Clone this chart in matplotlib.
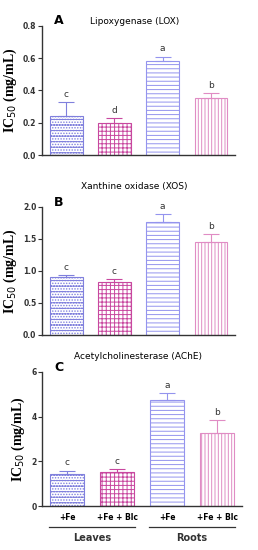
import numpy as np
import matplotlib
matplotlib.use('Agg')
import matplotlib.pyplot as plt

# ---- data ----
GROUPS = ['+Fe', '+Fe + Blc', '+Fe', '+Fe + Blc']
ORGANS = ['Leaves', 'Roots']
TITLES = ['Lipoxygenase (LOX)', 'Xanthine oxidase (XOS)', 'Acetylcholinesterase (AChE)']
PANELS = ['A', 'B', 'C']
LOX = [0.245, 0.200, 0.580, 0.355]
LOX_ERR = [0.085, 0.030, 0.030, 0.030]
LOX_LET = ['c', 'd', 'a', 'b']
XOS = [0.90, 0.82, 1.77, 1.45]
XOS_ERR = [0.04, 0.05, 0.12, 0.12]
XOS_LET = ['c', 'c', 'a', 'b']
ACHE = [1.45, 1.50, 4.72, 3.28]
ACHE_ERR = [0.13, 0.15, 0.33, 0.57]
ACHE_LET = ['c', 'c', 'a', 'b']
YTICKS = [[0.0, 0.2, 0.4, 0.6, 0.8], [0.0, 0.5, 1.0, 1.5, 2.0], [0, 2, 4, 6]]
YFMT = ['{:.1f}', '{:.1f}', '{:.0f}']

EDGES = ['#8080dd', '#c8479f', '#9494ee', '#e08cc4']
HATCH = ['---......', '++++', '----', '|||||']

plt.rcParams['hatch.linewidth'] = 0.7
fig = plt.figure(figsize=(2.58, 5.50), dpi=100)

rects = [[0.163, 0.718, 0.748, 0.235],
         [0.163, 0.391, 0.748, 0.233],
         [0.163, 0.080, 0.775, 0.244]]
series = [(LOX, LOX_ERR, LOX_LET), (XOS, XOS_ERR, XOS_LET), (ACHE, ACHE_ERR, ACHE_LET)]
x = np.arange(4)

for k, (rect, (vals, errs, lets)) in enumerate(zip(rects, series)):
    ax = fig.add_axes(rect)
    for i in range(4):
        ax.bar(x[i], vals[i], width=0.68, color='white', edgecolor=EDGES[i],
               hatch=HATCH[i], linewidth=0.8, zorder=2)
        ax.errorbar(x[i], vals[i], yerr=[[0], [errs[i]]], fmt='none',
                    ecolor=EDGES[i], elinewidth=0.8, capsize=6, capthick=0.8, zorder=3)
        top = YTICKS[k][-1]
        ax.text(x[i], vals[i] + errs[i] + top * 0.025, lets[i], ha='center', va='bottom',
                fontsize=6.5, color='#333333')
    ax.set_xlim(-0.5, 3.5)
    ax.set_ylim(0, YTICKS[k][-1])
    ax.set_yticks(YTICKS[k])
    ax.set_yticklabels([YFMT[k].format(v) for v in YTICKS[k]], fontsize=5.5,
                       fontweight='bold', color='#333333')
    for s in ['top', 'right']:
        ax.spines[s].set_visible(False)
    for s in ['left', 'bottom']:
        ax.spines[s].set_color('#333333')
        ax.spines[s].set_linewidth(1.0)
    ax.tick_params(axis='y', length=3, width=0.8, pad=1, color='#333333')
    ax.set_ylabel('IC$_{50}$ (mg/mL)', family='Liberation Serif', fontsize=10,
                  fontweight='bold', labelpad=3)
    ax.text(0.06, 1.04 if k == 0 else 1.03, PANELS[k], transform=ax.transAxes,
            fontsize=9, fontweight='bold', ha='left', va='center')
    if k == 0:
        ax.set_title(TITLES[k], fontsize=6.5, pad=3, x=0.48, y=0.985)
    elif k == 1:
        ax.set_title(TITLES[k], fontsize=6.5, pad=13, x=0.48)
    else:
        ax.set_title(TITLES[k], fontsize=6.5, pad=9, x=0.48)
    if k < 2:
        ax.set_xticks([])
    else:
        ax.set_xticks(x)
        ax.set_xticklabels(GROUPS, fontsize=5.5, fontweight='bold')
        ax.tick_params(axis='x', length=0, pad=5)
        for j, org in enumerate(ORGANS):
            x0, x1 = x[2 * j] - 0.36, x[2 * j + 1] + 0.36
            ax.plot([x0, x1], [-0.155, -0.155], transform=ax.get_xaxis_transform(),
                    color='#333333', lw=0.9, clip_on=False)
            ax.text((x0 + x1) / 2, -0.24, org, transform=ax.get_xaxis_transform(),
                    ha='center', va='center', fontsize=7, fontweight='bold', color='#333333')

fig.savefig('out.png', dpi=100)
